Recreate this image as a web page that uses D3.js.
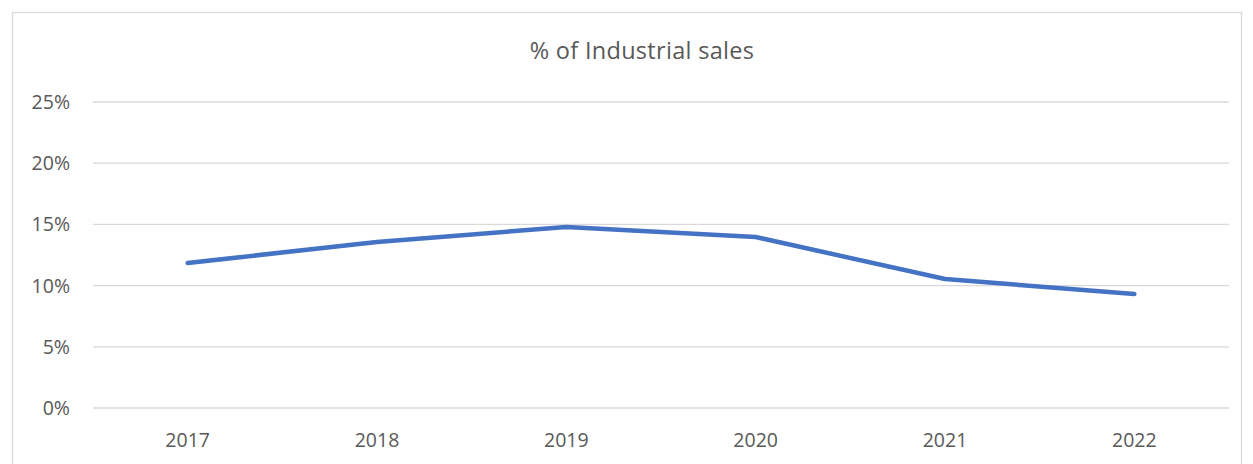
<!DOCTYPE html>
<html lang="en">
<head>
    <meta charset="UTF-8">
    <title>% of Industrial sales</title>
    <script src="https://d3js.org/d3.v7.min.js"></script>
    <style>
        body { margin: 0; background: #fff; }
        svg text { font-family: "Open Sans", "Liberation Sans", sans-serif; fill: #595959; }
        .grid line { stroke: #d9d9d9; stroke-width: 1.3px; }
    </style>
</head>
<body>
<svg id="canvas" width="1253" height="464"></svg>
<script>
    // chart data
    const years = ["2017", "2018", "2019", "2020", "2021", "2022"];
    const shares = [0.1185, 0.1356, 0.1479, 0.1397, 0.1054, 0.0931];
    const yTicks = [0, 0.05, 0.10, 0.15, 0.20, 0.25];

    let svg = d3.select("#canvas");

    // chart border
    svg.append("rect")
        .attr("x", 12.5).attr("y", 12.5)
        .attr("width", 1229).attr("height", 470)
        .attr("fill", "none").attr("stroke", "#d9d9d9").attr("stroke-width", 1.3);

    let x = d3.scaleBand().domain(years).range([93, 1229]);
    let y = d3.scaleLinear().domain([0, 0.25]).range([408, 102]);

    svg.append("text")
        .attr("x", 642).attr("y", 59)
        .attr("text-anchor", "middle")
        .style("font-size", "23.5px")
        .style("letter-spacing", "0.3px")
        .text("% of Industrial sales");

    // gridlines
    let grid = svg.append("g").attr("class", "grid");
    grid.selectAll("line")
        .data(yTicks)
        .join("line")
        .attr("x1", 93).attr("x2", 1229)
        .attr("y1", d => y(d)).attr("y2", d => y(d));

    // y labels
    svg.selectAll("text.ylab")
        .data(yTicks)
        .join("text")
        .attr("class", "ylab")
        .attr("x", 70).attr("y", d => y(d) + 7)
        .attr("text-anchor", "end")
        .style("font-size", "19.5px")
        .text(d3.format(".0%"));

    // x labels
    svg.selectAll("text.xlab")
        .data(years)
        .join("text")
        .attr("class", "xlab")
        .attr("x", d => x(d) + x.bandwidth() / 2).attr("y", 447)
        .attr("text-anchor", "middle")
        .style("font-size", "19.5px")
        .text(d => d);

    let line = d3.line()
        .x((d, i) => x(years[i]) + x.bandwidth() / 2)
        .y(d => y(d));

    svg.append("path")
        .datum(shares)
        .attr("d", line)
        .attr("fill", "none")
        .attr("stroke", "#4472c4")
        .attr("stroke-width", 4.5)
        .attr("stroke-linecap", "round")
        .attr("stroke-linejoin", "round");
</script>
</body>
</html>
